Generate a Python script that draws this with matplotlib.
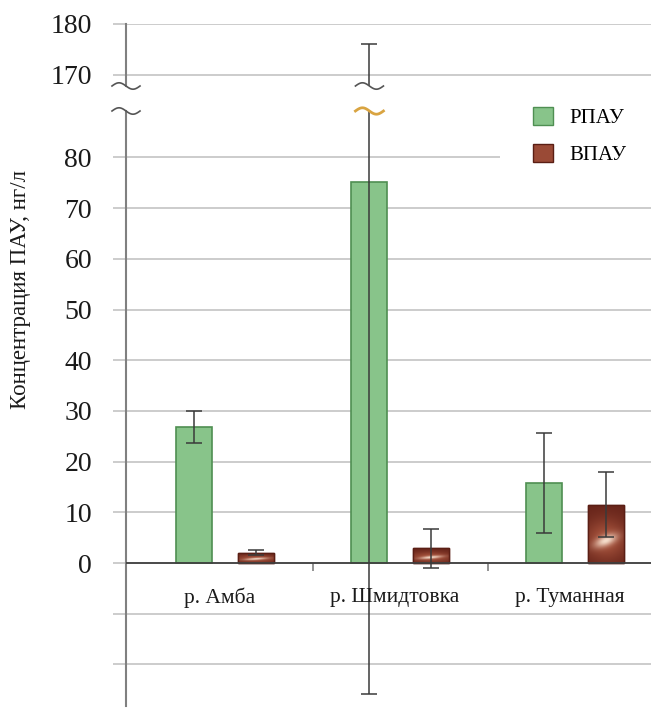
import numpy as np
import matplotlib.pyplot as plt
from matplotlib.lines import Line2D
from matplotlib.patches import Patch, Rectangle

plt.rcParams['font.family'] = ['Liberation Serif', 'DejaVu Serif']

# data
rivers = ['р. Амба', 'р. Шмидтовка', 'р. Туманная']
series = ['РПАУ', 'ВПАУ']
rpau = [26.8, 75.1, 15.8]
rpau_err = [3.2, 101.0, 9.9]
vpau = [2.0, 2.9, 11.5]
vpau_err = [0.5, 3.9, 6.4]
ticks_low = [-20, -10, 0, 10, 20, 30, 40, 50, 60, 70, 80]
labels_low = ['', '', '0', '10', '20', '30', '40', '50', '60', '70', '80']
ticks_high = [170, 180]

W, H = 653, 708
fig = plt.figure(figsize=(W / 100, H / 100), dpi=100)
ax_hi = fig.add_axes([126 / W, 1 - 86 / H, 525 / W, 62 / H])
ax_lo = fig.add_axes([126 / W, 2 / H, 525 / W, 595 / H])

green = '#88c48a'
green_edge = '#4f8f52'
brown = '#7e3324'
brown_edge = '#5a1e14'
grid_c = '#c8c8c8'
spine_c = '#808080'
err_c = '#3a3a3a'

x = np.arange(len(rivers))
off, w = 0.175, 0.205


def texture(n=120):
    u, v = np.meshgrid(np.linspace(0, 1, n), np.linspace(0, 1, n))
    a = np.deg2rad(12)
    du, dv = u - 0.5, v - 0.38
    ru = du * np.cos(a) + dv * np.sin(a)
    rv = -du * np.sin(a) + dv * np.cos(a)
    r2 = (ru / 0.33) ** 2 + (rv / 0.1) ** 2
    hl = np.exp(-r2 * 1.2)[..., None]
    band = np.exp(-((v - 0.4) / 0.35) ** 2 - ((u - 0.5) / 0.6) ** 2)[..., None]
    dark = np.array([0.40, 0.14, 0.10])
    mid = np.array([0.66, 0.33, 0.24])
    light = np.array([0.96, 0.87, 0.80])
    base = dark * (1 - band) + mid * band
    return base * (1 - hl) + light * hl


tex = texture()

for ax in (ax_hi, ax_lo):
    ax.set_axisbelow(True)
    ax.bar(x - off, rpau, w, color=green, edgecolor=green_edge, linewidth=1.2, zorder=2)
    bars = ax.bar(x + off, vpau, w, color=brown, edgecolor=brown_edge, linewidth=1.0, zorder=2)
    for b in bars:
        im = ax.imshow(tex, extent=[b.get_x(), b.get_x() + b.get_width(), 0, b.get_height()],
                       aspect='auto', origin='lower', zorder=2.5)
        im.set_clip_path(b)
    ax.bar(x + off, vpau, w, facecolor='none', edgecolor=brown_edge, linewidth=1.0, zorder=2.6)
    ax.errorbar(x - off, rpau, yerr=rpau_err, fmt='none', ecolor=err_c, elinewidth=1.1,
                capsize=5.5, capthick=1.1, zorder=3)
    ax.errorbar(x + off, vpau, yerr=vpau_err, fmt='none', ecolor=err_c, elinewidth=1.1,
                capsize=5.5, capthick=1.1, zorder=3)
    for s in ['top', 'right', 'bottom']:
        ax.spines[s].set_visible(False)
    ax.spines['left'].set_color(spine_c)
    ax.spines['left'].set_linewidth(1.5)
    ax.set_xlim(-0.566, 2.434)
    ax.set_xticks([])
    ax.grid(axis='y', color=grid_c, linewidth=1.3)
    ax.tick_params(axis='y', direction='out', length=9.5, width=1.3, color=grid_c,
                   labelsize=20, pad=15, labelcolor='#1a1a1a')

ax_hi.set_ylim(167.8, 180)
ax_hi.set_yticks(ticks_high)
ax_lo.set_ylim(-28.2, 89.15)
ax_lo.set_yticks(ticks_low)
ax_lo.set_yticklabels(labels_low)

# dark zero line with its tick
ax_lo.axhline(0, color='#404040', linewidth=1.3, zorder=2.8)
zero_i = ticks_low.index(0)
ax_lo.get_yticklines()[2 * zero_i].set_color('#404040')

# category dividers
ax_lo.vlines(x[:-1] + 0.5, -1.6, 0, color=spine_c, linewidth=1.2)
for xi, name in zip(x, rivers):
    ax_lo.text(xi - 0.03, -6.8, name, ha='center', va='center', fontsize=15.5, color='#1a1a1a')

fig.text(21 / W, 1 - 290 / H, 'Концентрация ПАУ, нг/л', rotation=90,
         ha='center', va='center', fontsize=16.5, color='#1a1a1a')


# break marks
def tilde(xp, yp, color, lw=1.2):
    t = np.linspace(0, 1, 40)
    xs = xp - 14 + 28 * t
    ys = yp + 3.2 * np.sin(2 * np.pi * t)
    fx, fy = fig.transFigure.inverted().transform(np.column_stack([xs, ys])).T
    fig.add_artist(Line2D(fx, fy, transform=fig.transFigure, color=color, linewidth=lw))


fig.canvas.draw()
y_top = ax_hi.get_window_extent().y0
y_bot = ax_lo.get_window_extent().y1
x_axis = ax_lo.get_window_extent().x0
x_err = ax_lo.transData.transform((x[1] - off, 0))[0]
tilde(x_axis, y_top, '#555555')
tilde(x_axis, y_bot, '#555555')
tilde(x_err, y_top, '#555555')
tilde(x_err, y_bot, '#d9a441', lw=2.0)

# legend on white background
fig.add_artist(Rectangle((500 / W, 1 - 178 / H), 153 / W, 82 / H, transform=fig.transFigure,
                         facecolor='white', edgecolor='none', zorder=1))
handles = [Patch(facecolor=green, edgecolor=green_edge, linewidth=1.0),
           Patch(facecolor='#9a4a36', edgecolor=brown_edge, linewidth=1.0)]
fig.legend(handles, series, loc='upper left', bbox_to_anchor=(533 / W, 1 - 107 / H),
           frameon=False, fontsize=15, borderpad=0, borderaxespad=0, handlelength=0.95,
           handleheight=0.95, handletextpad=0.8, labelspacing=0.75)

fig.savefig('out.png', dpi=100)
